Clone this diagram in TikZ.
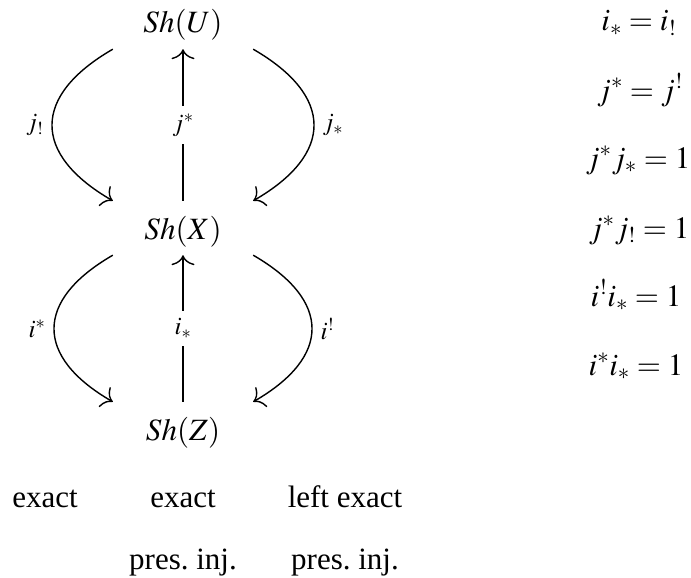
\documentclass[tikz,border=0pt]{standalone}
\usepackage{mathptmx}
\usepackage[no-math]{fontspec}
\setmainfont{Liberation Serif}
\usetikzlibrary{arrows.meta}
\begin{document}
\begin{tikzpicture}[x=1pt,y=1pt,
  every node/.style={font=\fontsize{31}{37}\selectfont},
  obj/.style={inner sep=0pt, minimum width=140pt, text height=38pt, text depth=16pt, anchor=base},
  txt/.style={inner sep=0pt, anchor=base},
  arr/.style={line width=1.4pt, -{Computer Modern Rightarrow[width=23pt,length=10pt]}},
  lab/.style={inner sep=0pt, font=\fontsize{25}{30}\selectfont},
  vlab/.style={fill=white, inner xsep=2pt, inner ysep=8pt, font=\fontsize{25}{30}\selectfont}]
\useasboundingbox (0,0) rectangle (691,-578);
\node[obj] (U) at (183,-33) {$Sh(U)$};
\node[obj] (X) at (183,-239) {$Sh(X)$};
\node[obj] (Z) at (183,-440) {$Sh(Z)$};
% upper arrows
\draw[arr] (U.south west) to[out=210,in=150,looseness=1.58]
  node[lab,left=8pt] {$j_!$} (X.north west);
\draw[arr] (X.north) -- node[vlab] {$j^*$} (U.south);
\draw[arr] (U.south east) to[out=-30,in=30,looseness=1.58]
  node[lab,right=8pt] {$j_*$} (X.north east);
% lower arrows
\draw[arr] (X.south west) to[out=210,in=150,looseness=1.58]
  node[lab,left=8pt] {$i^*$} (Z.north west);
\draw[arr] (Z.north) -- node[vlab] {$i_*$} (X.south);
\draw[arr] (X.south east) to[out=-30,in=30,looseness=1.58]
  node[lab,right=8pt] {$i^!$} (Z.north east);
% bottom texts
\node[txt] (e1) at (45,-507) {exact};
\node[txt] (e2) at (183,-507) {exact};
\node[txt] (e3) at (345,-507) {left exact};
\node[txt] (p2) at (183,-569) {pres.\ inj.};
\node[txt] (p3) at (345,-569) {pres.\ inj.};
% equations
\node[txt] (q1) at (639,-31) {$i_* = i_!$};
\node[txt] (q2) at (640,-100) {$j^* = j^!$};
\node[txt] (q3) at (638,-168) {$j^*j_* = 1$};
\node[txt] (q4) at (639,-238) {$j^*j_! = 1$};
\node[txt] (q5) at (636,-306) {$i^!i_* = 1$};
\node[txt] (q6) at (636,-375) {$i^*i_* = 1$};
\end{tikzpicture}
\end{document}
